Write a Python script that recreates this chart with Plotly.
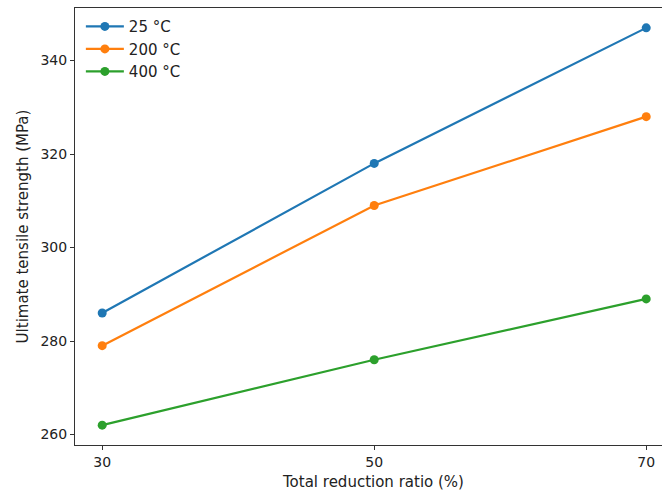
import plotly.graph_objects as go

x_ratio = [30, 50, 70]
s25 = [286, 318, 347]
s200 = [279, 309, 328]
s400 = [262, 276, 289]
names = ["25 °C", "200 °C", "400 °C"]
colors = ["#1f77b4", "#ff7f0e", "#2ca02c"]

fig = go.Figure()
for name, ys, c in zip(names, [s25, s200, s400], colors):
    fig.add_trace(go.Scatter(x=x_ratio, y=ys, name=name, mode="lines+markers",
                             line=dict(color=c, width=2.2), marker=dict(color=c, size=9)))

fig.update_layout(
    width=662, height=493,
    margin=dict(l=75, r=0, t=8, b=48),
    plot_bgcolor="white", paper_bgcolor="white",
    font=dict(family="DejaVu Sans", size=13, color="#222"),
    legend=dict(x=0.01, y=0.995, xanchor="left", yanchor="top", bgcolor="rgba(255,255,255,0)",
                font=dict(size=15), itemwidth=38, tracegroupgap=2),
    showlegend=True,
)
fig.add_annotation(text="Total reduction ratio (%)", xref="paper", yref="paper",
                   x=0.5077, y=0, yshift=-26, xanchor="center", yanchor="top",
                   showarrow=False, font=dict(size=15, family="DejaVu Sans", color="#222"))
fig.update_xaxes(range=[28, 71.16], tickvals=[30, 50, 70], showgrid=False, zeroline=False,
                 showline=True, linecolor="#333", linewidth=1, mirror=True,
                 ticks="outside", ticklen=4, tickcolor="#333", tickfont=dict(size=14))
fig.update_yaxes(range=[257.75, 351.25], tickvals=[260, 280, 300, 320, 340], showgrid=False, zeroline=False,
                 showline=True, linecolor="#333", linewidth=1,
                 ticks="outside", ticklen=4, tickcolor="#333", tickfont=dict(size=14),
                 title=dict(text="Ultimate tensile strength (MPa)", standoff=8, font=dict(size=15)))
fig.write_html("out.html")
